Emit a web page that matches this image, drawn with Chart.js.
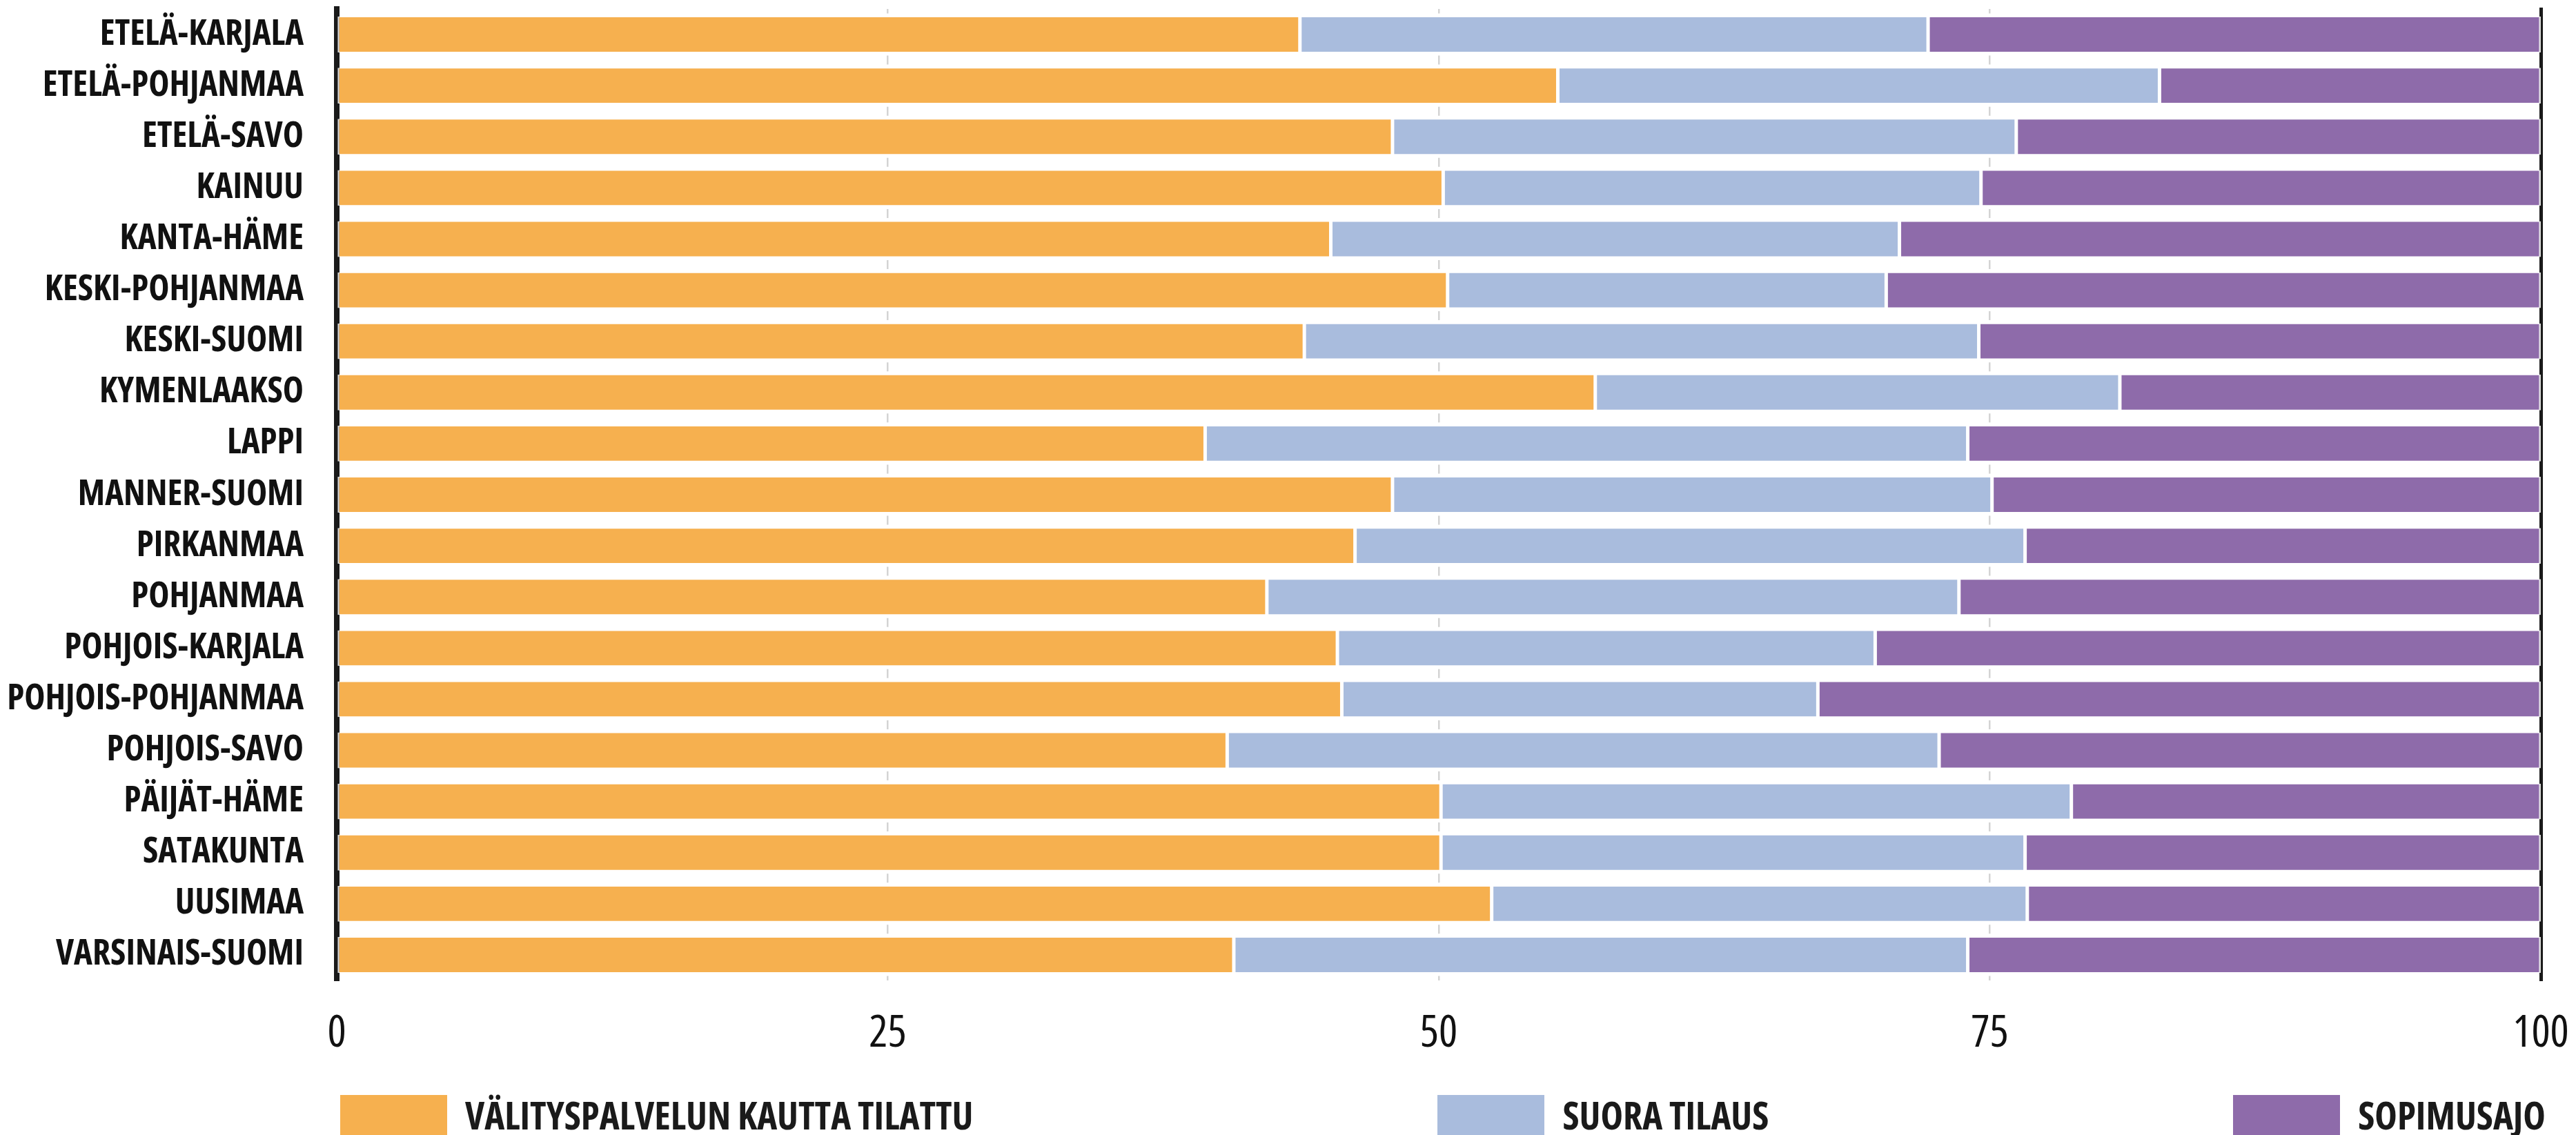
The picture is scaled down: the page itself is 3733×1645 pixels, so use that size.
<!DOCTYPE html>
<html>
<head>
<meta charset="utf-8">
<script src="https://cdn.jsdelivr.net/npm/chart.js@4"></script>
<style>
  html, body { margin: 0; padding: 0; background: #fff; }
  #wrap { position: relative; width: 3733px; height: 1645px; }
  #legend {
    position: absolute;
    top: 1587px;
    left: 493px;
    width: 3196px;
    display: flex;
    justify-content: space-between;
    font-family: "Open Sans", sans-serif;
    font-stretch: condensed;
    font-weight: bold;
    font-size: 55px;
    line-height: 58px;
    color: #1a1a1a;
  }
  #legend .item { display: flex; align-items: center; }
  #legend .box { width: 155px; height: 58px; margin-right: 26px; }
</style>
</head>
<body>
<div id="wrap">
  <canvas id="chart" width="3733" height="1645"></canvas>
  <div id="legend"></div>
</div>
<script>
// =====================
// Data
// =====================
const regions = [
  "ETELÄ-KARJALA", "ETELÄ-POHJANMAA", "ETELÄ-SAVO", "KAINUU", "KANTA-HÄME",
  "KESKI-POHJANMAA", "KESKI-SUOMI", "KYMENLAAKSO", "LAPPI", "MANNER-SUOMI",
  "PIRKANMAA", "POHJANMAA", "POHJOIS-KARJALA", "POHJOIS-POHJANMAA", "POHJOIS-SAVO",
  "PÄIJÄT-HÄME", "SATAKUNTA", "UUSIMAA", "VARSINAIS-SUOMI"
]

const valitys = [43.7, 55.4, 47.9, 50.2, 45.1, 50.4, 43.9, 57.1, 39.4, 47.9,
                 46.2, 42.2, 45.4, 45.6, 40.4, 50.1, 50.1, 52.4, 40.7]
const suora   = [28.5, 27.3, 28.3, 24.4, 25.8, 19.9, 30.6, 23.8, 34.6, 27.2,
                 30.4, 31.4, 24.4, 21.6, 32.3, 28.6, 26.5, 24.3, 33.3]
const sopimus = [27.8, 17.3, 23.8, 25.4, 29.1, 29.7, 25.5, 19.1, 26.0, 24.9,
                 23.4, 26.4, 30.2, 32.8, 27.3, 21.3, 23.4, 23.3, 26.0]

const seriesNames = ["VÄLITYSPALVELUN KAUTTA TILATTU", "SUORA TILAUS", "SOPIMUSAJO"]
const seriesColors = ["#f6b04f", "#a9bcdd", "#8e6baa"]
const xTicks = [0, 25, 50, 75, 100]

const FONT = "'Open Sans', sans-serif"


// =====================
// Build chart
// =====================
function makeDataset(i, values) {
  return {
    label: seriesNames[i],
    data: values,
    backgroundColor: seriesColors[i],
    borderColor: "rgba(255,255,255,0.85)",
    borderWidth: { top: 1, bottom: 1, left: 2.5, right: 2.5 },
    borderSkipped: false,
    barPercentage: 0.7,
    categoryPercentage: 1
  }
}

const chart = new Chart(document.getElementById("chart"), {
  type: "bar",
  data: {
    labels: regions,
    datasets: [
      makeDataset(0, valitys),
      makeDataset(1, suora),
      makeDataset(2, sopimus)
    ]
  },
  options: {
    indexAxis: "y",
    responsive: false,
    animation: false,
    devicePixelRatio: 1,
    layout: {
      padding: { top: 13, left: 10, right: 51, bottom: 94 }
    },
    plugins: {
      legend: { display: false },
      tooltip: { enabled: false }
    },
    scales: {
      x: {
        type: "linear",
        stacked: true,
        min: 0,
        max: 100,
        afterBuildTicks: scale => {
          scale.ticks = xTicks.map(v => ({ value: v }))
        },
        // keep the plot edges fixed, labels may hang over
        afterFit: scale => {
          scale.height = 130
          scale.paddingLeft = 0
          scale.paddingRight = 0
        },
        ticks: {
          font: { family: FONT, size: 64, weight: "condensed" },
          color: "#111",
          padding: 39
        },
        grid: {
          color: "#d4d4d4",
          lineWidth: 2.5,
          drawTicks: false
        },
        border: {
          display: false,
          dash: [13, 61.1],
          dashOffset: 6.5
        }
      },
      y: {
        stacked: true,
        z: 1,
        afterFit: scale => {
          scale.width = 478
          scale.paddingTop = 0
          scale.paddingBottom = 0
        },
        ticks: {
          font: { family: FONT, size: 51, weight: "bold condensed" },
          color: "#111",
          padding: 48
        },
        grid: { display: false, drawTicks: false },
        border: { display: true, color: "#1a1a1a", width: 8 }
      },
      y2: {
        type: "category",
        position: "right",
        z: 1,
        afterFit: scale => { scale.width = 0 },
        ticks: { display: false },
        grid: { display: false, drawTicks: false },
        border: { display: true, color: "#1a1a1a", width: 5 }
      }
    }
  }
})


// =====================
// Legend
// =====================
function buildLegend() {
  const container = document.getElementById("legend")
  container.innerHTML = ""

  chart.data.datasets.forEach(ds => {
    const item = document.createElement("div")
    item.className = "item"
    item.innerHTML = `
      <span class="box" style="background:${ds.backgroundColor}"></span>
      <span>${ds.label}</span>
    `
    container.appendChild(item)
  })
}

buildLegend()
</script>
</body>
</html>
